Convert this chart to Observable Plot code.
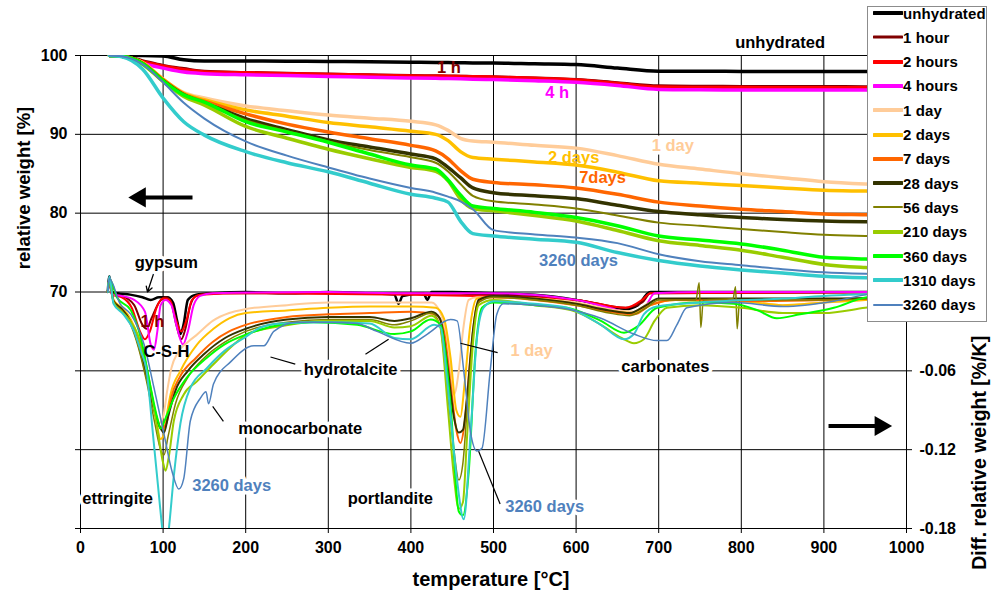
<!DOCTYPE html>
<html><head><meta charset="utf-8">
<script src="https://cdn.jsdelivr.net/npm/d3@7"></script>
<script src="https://cdn.jsdelivr.net/npm/@observablehq/plot@0.6"></script>
<style>
body{margin:0;background:#fff;}
#wrap{position:relative;width:1003px;height:596px;font-family:"Liberation Sans",Arial,sans-serif;}
#legend{position:absolute;left:867px;top:6px;width:120px;height:316px;border:1px solid #8c8c8c;background:#fff;box-sizing:border-box;}
.row{position:absolute;left:5px;height:20px;display:flex;align-items:center;font-weight:bold;font-size:15px;color:#000;white-space:nowrap;letter-spacing:0.1px;}
.row svg{margin-right:0px;}
</style></head><body>
<div id="wrap"><div id="chart"></div><div id="legend"></div></div>
<script>
// ---------- series ----------
const series = ["unhydrated","1 hour","2 hours","4 hours","1 day","2 days","7 days","28 days","56 days","210 days","360 days","1310 days","3260 days"];
const colors = ["#000000","#800000","#FF0000","#FF00FF","#FFCC99","#FFC000","#FF6600","#333300","#808000","#99CC00","#00FF00","#33CCCC","#4F81BD"];
const tgWidths = [3.5,3,3.5,3.5,3.5,3.5,3.5,3.5,2,3.5,3.5,3.5,2];
const dtgWidths = [2.5,2,2,2,2,2,2,2,1.5,2,2,2,1.5];
const legendWidths = [4,3,4,4,4,4,4,4,2,4,4,4,2];

// ---------- TG (relative weight, %) ----------
const tgTemps = [35,50,75,100,125,150,200,250,300,350,400,430,445,460,475,500,550,600,650,700,750,800,850,900,950,1000];
const tgUnhydrated = [100,100,100,99.95,99.45,99.3,99.3,99.28,99.25,99.2,99.15,99.12,99.1,99.08,99.06,99.05,98.95,98.85,98.4,98.0,98.0,97.98,97.98,97.97,97.97,97.96];
const tg1h   = [100,99.95,99.35,98.75,98.35,98.0,97.85,97.75,97.65,97.55,97.45,97.42,97.4,97.37,97.35,97.3,97.15,96.95,96.55,96.15,96.1,96.08,96.07,96.06,96.05,96.05];
const tg2h   = [100,99.9,99.2,98.65,98.2,97.9,97.8,97.7,97.6,97.5,97.4,97.37,97.35,97.33,97.3,97.25,97.1,96.9,96.45,96.0,95.95,95.93,95.92,95.92,95.91,95.9];
const tg4h   = [100,99.9,99.0,98.4,97.9,97.7,97.55,97.45,97.35,97.25,97.15,97.1,97.08,97.05,97.0,96.95,96.8,96.6,96.2,95.7,95.65,95.63,95.62,95.62,95.61,95.6];
const tg1d   = [100,99.9,99.1,97.0,95.3,94.6,93.6,93.0,92.45,92.05,91.65,91.2,90.5,89.5,89.15,89.0,88.6,88.25,87.3,86.2,85.6,85.0,84.5,84.0,83.7,83.5];
const tg2d   = [100,99.9,99.1,97.0,95.2,94.4,93.1,92.3,91.5,90.95,90.4,90.0,89.2,87.8,87.05,86.85,86.5,86.1,85.2,84.1,83.8,83.5,83.2,82.9,82.8,82.7];
const tg7d   = [100,99.9,99.0,96.9,95.1,94.2,92.6,91.3,90.3,89.45,88.6,87.9,86.9,85.4,84.3,83.9,83.6,83.2,82.4,81.4,80.9,80.5,80.2,79.9,79.8,79.7];
const tg28d  = [100,99.9,99.0,96.8,95.0,94.0,92.0,90.6,89.3,88.4,87.5,86.9,85.8,84.5,83.2,82.6,82.2,81.85,81.0,80.2,79.8,79.45,79.2,79.0,78.9,78.85];
const tg56d  = [100,99.9,99.0,96.8,95.0,93.9,91.8,90.4,89.1,88.0,87.1,86.4,85.3,83.7,82.2,81.5,81.1,80.6,79.7,78.8,78.4,78.0,77.6,77.25,77.1,77.0];
const tg210d = [100,99.9,98.9,96.7,94.8,93.7,91.0,89.5,88.1,86.9,85.8,85.3,84.1,81.8,80.6,80.3,79.7,79.0,77.8,76.5,75.9,75.3,74.4,73.5,73.1,72.9];
const tg360d = [100,99.9,99.0,96.8,95.0,94.1,91.6,90.3,89.0,87.5,86.1,85.6,84.2,82.3,80.9,80.6,80.1,79.45,78.4,77.1,76.6,76.1,75.3,74.4,74.2,74.1];
const tg1310d= [100,99.85,98.3,94.6,91.6,89.9,87.8,86.4,85.25,83.8,82.4,81.9,81.4,79.0,77.4,77.1,76.7,76.3,75.0,74.0,73.3,72.8,72.4,72.0,71.8,71.7];
const tg3260d= [100,99.9,98.9,96.6,94.0,92.0,89.1,87.3,85.8,84.4,83.2,82.6,82.1,81.5,80.5,77.85,77.3,76.9,76.2,74.8,73.9,73.4,72.9,72.5,72.3,72.2];

// ---------- DTG (diff. relative weight, %/K) : [temperature, value] ----------
const dtgUnhydrated = [[33,0],[35,0.012],[38,0],[45,-0.001],[60,-0.002],[75,-0.004],[85,-0.006],[95,-0.004],[105,-0.004],[112,-0.008],[117,-0.022],[121,-0.032],[125,-0.024],[130,-0.006],[140,-0.002],[160,-0.001],[200,0],[250,-0.001],[300,0],[350,-0.001],[380,-0.002],[385,-0.009],[390,-0.003],[415,-0.001],[420,-0.006],[425,0],[450,0],[500,-0.001],[550,-0.002],[600,-0.006],[640,-0.011],[660,-0.013],[675,-0.01],[685,-0.002],[690,0],[750,0],[800,0],[900,0],[1000,0]];
const dtg1h = [[33,0],[35,0.011],[38,-0.002],[50,-0.003],[65,-0.01],[75,-0.025],[80,-0.028],[86,-0.02],[95,-0.008],[103,-0.004],[110,-0.008],[116,-0.025],[122,-0.036],[127,-0.028],[133,-0.01],[140,-0.003],[160,-0.001],[400,-0.001],[600,-0.006],[660,-0.012],[680,-0.008],[690,-0.001],[1000,0]];
const dtg2h = [[33,0],[35,0.011],[38,-0.002],[50,-0.004],[62,-0.012],[72,-0.03],[78,-0.036],[84,-0.03],[92,-0.012],[100,-0.005],[108,-0.006],[115,-0.02],[122,-0.03],[128,-0.022],[135,-0.006],[145,-0.002],[200,-0.001],[400,-0.002],[600,-0.006],[660,-0.012],[680,-0.006],[690,-0.001],[1000,0]];
const dtg4h = [[33,0],[35,0.011],[38,-0.002],[50,-0.003],[65,-0.006],[78,-0.015],[85,-0.04],[89,-0.044],[93,-0.03],[97,-0.01],[103,-0.006],[110,-0.01],[116,-0.025],[124,-0.04],[130,-0.03],[137,-0.01],[145,-0.003],[160,-0.001],[300,0],[400,-0.001],[500,-0.001],[600,-0.006],[640,-0.012],[668,-0.016],[685,-0.01],[695,-0.001],[750,0],[1000,0]];
const dtg1d = [[33,0],[35,0.01],[40,-0.006],[50,-0.012],[60,-0.02],[70,-0.035],[80,-0.06],[88,-0.085],[94,-0.1],[100,-0.095],[105,-0.075],[110,-0.058],[118,-0.046],[130,-0.038],[140,-0.033],[160,-0.022],[180,-0.016],[200,-0.013],[250,-0.01],[300,-0.008],[350,-0.008],[400,-0.008],[425,-0.008],[435,-0.015],[445,-0.04],[452,-0.078],[458,-0.06],[463,-0.03],[470,-0.006],[480,-0.004],[500,-0.004],[550,-0.005],[600,-0.008],[650,-0.014],[670,-0.015],[690,-0.008],[720,-0.006],[800,-0.006],[850,-0.01],[900,-0.008],[1000,-0.004]];
const dtg2d = [[33,0],[35,0.01],[40,-0.006],[50,-0.012],[60,-0.02],[70,-0.035],[80,-0.06],[90,-0.09],[97,-0.112],[100,-0.11],[104,-0.095],[109,-0.078],[121,-0.06],[141,-0.04],[161,-0.028],[180,-0.02],[200,-0.016],[250,-0.014],[300,-0.012],[350,-0.011],[400,-0.011],[430,-0.012],[440,-0.02],[448,-0.05],[455,-0.09],[460,-0.095],[465,-0.07],[472,-0.025],[480,-0.005],[500,-0.004],[550,-0.005],[600,-0.009],[650,-0.015],[670,-0.016],[690,-0.01],[720,-0.006],[800,-0.007],[850,-0.01],[900,-0.008],[1000,-0.004]];
const dtg7d = [[33,0],[35,0.01],[40,-0.007],[50,-0.013],[60,-0.022],[70,-0.038],[80,-0.062],[90,-0.09],[98,-0.104],[104,-0.1],[110,-0.08],[120,-0.065],[140,-0.05],[160,-0.038],[180,-0.03],[200,-0.025],[250,-0.019],[300,-0.017],[350,-0.016],[400,-0.015],[430,-0.017],[440,-0.03],[448,-0.07],[455,-0.105],[460,-0.115],[465,-0.1],[472,-0.05],[480,-0.01],[490,-0.004],[500,-0.004],[550,-0.006],[600,-0.01],[650,-0.016],[670,-0.017],[690,-0.01],[720,-0.006],[800,-0.007],[900,-0.006],[1000,-0.004]];
const dtg28d = [[33,0],[35,0.01],[40,-0.007],[50,-0.013],[60,-0.022],[70,-0.04],[80,-0.065],[90,-0.092],[97,-0.104],[101,-0.107],[106,-0.095],[115,-0.075],[130,-0.06],[150,-0.047],[175,-0.035],[200,-0.028],[250,-0.021],[300,-0.019],[350,-0.019],[380,-0.022],[400,-0.02],[425,-0.015],[435,-0.02],[445,-0.06],[452,-0.095],[458,-0.107],[463,-0.105],[468,-0.08],[475,-0.03],[482,-0.006],[500,-0.003],[550,-0.005],[600,-0.009],[640,-0.014],[665,-0.016],[685,-0.01],[700,-0.005],[800,-0.005],[900,-0.005],[1000,-0.004]];
const dtg56d = [[33,0],[35,0.01],[40,-0.008],[50,-0.014],[60,-0.024],[70,-0.042],[80,-0.068],[90,-0.1],[97,-0.12],[101,-0.124],[106,-0.11],[115,-0.085],[130,-0.065],[150,-0.05],[175,-0.038],[200,-0.03],[250,-0.023],[300,-0.021],[350,-0.021],[380,-0.025],[400,-0.022],[425,-0.016],[435,-0.025],[445,-0.08],[452,-0.12],[458,-0.143],[463,-0.13],[468,-0.09],[475,-0.035],[482,-0.008],[500,-0.004],[550,-0.006],[600,-0.01],[640,-0.016],[665,-0.018],[685,-0.012],[700,-0.006],[745,-0.006],[749,0.007],[751,-0.027],[754,-0.006],[790,-0.005],[793,0.004],[795,-0.028],[798,-0.006],[850,-0.006],[900,-0.006],[1000,-0.004]];
const dtg210d = [[33,0],[35,0.01],[40,-0.008],[50,-0.015],[60,-0.022],[69,-0.032],[81,-0.06],[93,-0.104],[100,-0.13],[103,-0.136],[107,-0.125],[113,-0.098],[125,-0.078],[141,-0.068],[161,-0.055],[182,-0.042],[202,-0.032],[242,-0.026],[300,-0.022],[350,-0.022],[380,-0.027],[400,-0.026],[425,-0.018],[435,-0.025],[445,-0.09],[452,-0.14],[458,-0.165],[463,-0.16],[468,-0.11],[475,-0.04],[482,-0.01],[500,-0.006],[550,-0.01],[600,-0.015],[630,-0.025],[655,-0.035],[670,-0.039],[682,-0.036],[695,-0.022],[710,-0.012],[750,-0.01],[800,-0.012],[850,-0.016],[900,-0.016],[950,-0.012],[1000,-0.008]];
const dtg360d = [[33,0],[35,0.01],[44,-0.004],[61,-0.014],[73,-0.035],[85,-0.073],[93,-0.096],[97,-0.104],[103,-0.096],[113,-0.081],[129,-0.065],[153,-0.05],[174,-0.04],[202,-0.032],[242,-0.025],[282,-0.023],[335,-0.025],[380,-0.032],[400,-0.03],[424,-0.021],[436,-0.025],[448,-0.086],[458,-0.167],[463,-0.17],[470,-0.137],[478,-0.047],[486,-0.012],[500,-0.008],[550,-0.01],[589,-0.012],[630,-0.022],[658,-0.031],[675,-0.026],[698,-0.012],[750,-0.008],[791,-0.009],[820,-0.014],[843,-0.02],[871,-0.017],[912,-0.012],[952,-0.004],[1000,-0.002]];
const dtg1310d = [[33,0],[35,0.012],[40,-0.009],[52,-0.017],[65,-0.03],[73,-0.045],[80,-0.06],[88,-0.11],[95,-0.155],[99,-0.18],[103,-0.2],[107,-0.18],[113,-0.14],[121,-0.1],[133,-0.073],[153,-0.058],[174,-0.045],[198,-0.035],[218,-0.027],[242,-0.024],[300,-0.023],[350,-0.024],[380,-0.035],[400,-0.036],[428,-0.025],[436,-0.027],[444,-0.068],[456,-0.144],[464,-0.173],[472,-0.11],[480,-0.035],[488,-0.012],[500,-0.007],[550,-0.009],[589,-0.012],[630,-0.025],[658,-0.036],[670,-0.032],[682,-0.017],[698,-0.011],[750,-0.008],[850,-0.005],[900,-0.003],[1000,-0.001]];
const dtg3260d = [[33,0],[35,0.01],[48,-0.009],[61,-0.017],[77,-0.04],[89,-0.073],[101,-0.108],[111,-0.137],[119,-0.15],[125,-0.142],[133,-0.098],[145,-0.081],[152,-0.076],[155,-0.085],[161,-0.07],[182,-0.053],[210,-0.041],[222,-0.041],[234,-0.03],[262,-0.023],[300,-0.023],[335,-0.024],[359,-0.03],[400,-0.039],[420,-0.032],[448,-0.021],[456,-0.022],[464,-0.06],[472,-0.106],[480,-0.121],[486,-0.119],[496,-0.06],[504,-0.017],[512,-0.009],[550,-0.01],[589,-0.013],[630,-0.02],[670,-0.032],[698,-0.037],[710,-0.037],[722,-0.025],[734,-0.012],[791,-0.008],[851,-0.011],[912,-0.007],[952,-0.002],[1000,0]];

// ---------- axes ----------
const xTicks = [0,100,200,300,400,500,600,700,800,900,1000];
const tgTicks = [40,50,60,70,80,90,100];
const tgLabelled = [70,80,90,100];
const dtgTicks = [-0.06,-0.12,-0.18];

// ---------- annotations ----------
const annotations = [
  {T:847,w:101.65,text:"unhydrated",color:"#000",halo:false},
  {T:446,w:98.5,text:"1 h",color:"#800000",halo:false},
  {T:577,w:95.3,text:"4 h",color:"#FF00FF",halo:false},
  {T:717,w:88.6,text:"1 day",color:"#FFCC99",halo:true},
  {T:597,w:87.0,text:"2 days",color:"#FFC000",halo:false},
  {T:632,w:84.5,text:"7days",color:"#FF6600",halo:false},
  {T:603,w:74.0,text:"3260 days",color:"#4F81BD",halo:false},
  {T:104,w:73.7,text:"gypsum",color:"#000",halo:true},
  {T:87,w:66.2,text:"1 h",color:"#800000",halo:false},
  {T:104,w:62.4,text:"C-S-H",color:"#000",halo:false},
  {T:327,w:60.1,text:"hydrotalcite",color:"#000",halo:true},
  {T:266,w:52.7,text:"monocarbonate",color:"#000",halo:true},
  {T:45,w:43.8,text:"ettringite",color:"#000",halo:true},
  {T:183,w:45.4,text:"3260 days",color:"#4F81BD",halo:true},
  {T:375,w:43.8,text:"portlandite",color:"#000",halo:true},
  {T:546,w:62.5,text:"1 day",color:"#FFCC99",halo:true},
  {T:562,w:42.7,text:"3260 days",color:"#4F81BD",halo:true},
  {T:708,w:60.5,text:"carbonates",color:"#000",halo:true}
];
const leaders = [
  {x1:230,y1:61.75,x2:260,y2:60.86},
  {x1:345,y1:62.1,x2:373,y2:64.0},
  {x1:160,y1:55.5,x2:173,y2:53.6},
  {x1:460,y1:63.5,x2:505,y2:62.3},
  {x1:482,y1:49.8,x2:508,y2:43.1}
];
const gypsumArrow = [{x1:88.4,y1:72.3,x2:81.1,y2:70.0}];
const bigArrows = [{x1:135.6,x2:72,y:82.0,rot:-90},{x1:905.6,x2:968.5,y:53.0,rot:90}];

// ---------- build ----------
const tgValues = [tgUnhydrated,tg1h,tg2h,tg4h,tg1d,tg2d,tg7d,tg28d,tg56d,tg210d,tg360d,tg1310d,tg3260d];
const dtgValues = [dtgUnhydrated,dtg1h,dtg2h,dtg4h,dtg1d,dtg2d,dtg7d,dtg28d,dtg56d,dtg210d,dtg360d,dtg1310d,dtg3260d];
const toLeft = d => 70 + d / 0.006;      // DTG value -> left axis position
const fromLeft = v => (v - 70) * 0.006;

const font = '"Liberation Sans", Arial, sans-serif';
const annSize = 16.5;
const marks = [
  Plot.gridX({ticks: xTicks, stroke: "#000", strokeOpacity: 1, strokeWidth: 1}),
  Plot.gridY({ticks: tgTicks, stroke: "#000", strokeOpacity: 1, strokeWidth: 1}),
  Plot.frame({stroke: "#000", strokeWidth: 1}),
  Plot.axisX({ticks: xTicks, tickSize: 5, tickPadding: 8, tickFormat: d => String(d), label: null}),
  Plot.axisY({ticks: tgTicks, tickSize: 5, tickPadding: 8, tickFormat: d => tgLabelled.includes(d) ? String(d) : "", label: null}),
  Plot.axisY({anchor: "right", ticks: dtgTicks.map(toLeft), tickSize: 5, tickPadding: 8, tickFormat: v => fromLeft(v).toFixed(2), label: null})
];
series.forEach((s, i) => {
  const rows = dtgValues[i].map(([T, d]) => ({T, w: toLeft(d)}));
  marks.push(Plot.line(rows, {x: "T", y: "w", stroke: colors[i], strokeWidth: dtgWidths[i], curve: "monotone-x", clip: true}));
});
series.forEach((s, i) => {
  const rows = tgTemps.map((T, j) => ({T, w: tgValues[i][j]}));
  marks.push(Plot.line(rows, {x: "T", y: "w", stroke: colors[i], strokeWidth: tgWidths[i], curve: "monotone-x", clip: true}));
});
marks.push(
  Plot.link(leaders, {x1: "x1", y1: "y1", x2: "x2", y2: "y2", stroke: "#000", strokeWidth: 1.2}),
  Plot.arrow(gypsumArrow, {x1: "x1", y1: "y1", x2: "x2", y2: "y2", stroke: "#000", strokeWidth: 1.3, headLength: 7}),
  Plot.link(bigArrows, {x1: "x1", x2: "x2", y1: "y", y2: "y", stroke: "#000", strokeWidth: 4}),
  Plot.dot(bigArrows, {x: "x2", y: "y", symbol: "triangle", r: 7.5, fill: "#000", stroke: "none", rotate: "rot"}),
  Plot.text(annotations.filter(a => a.halo), {x: "T", y: "w", text: "text", fill: "color", stroke: "#fff", strokeWidth: 7, fontSize: annSize, fontWeight: "bold", fontFamily: font}),
  Plot.text(annotations.filter(a => !a.halo), {x: "T", y: "w", text: "text", fill: "color", fontSize: annSize, fontWeight: "bold", fontFamily: font}),
  Plot.text(["relative weight [%]"], {x: 0, y: 83.2, dx: -56, rotate: -90, fontSize: 18.5, fontWeight: "bold", fontFamily: font, fill: "#000"}),
  Plot.text(["Diff. relative weight [%/K]"], {x: 1000, y: 49.6, dx: 73, rotate: -90, fontSize: 19.5, fontWeight: "bold", fontFamily: font, fill: "#000"}),
  Plot.text(["temperature [°C]"], {x: 497, y: 40, dy: 51, fontSize: 20, fontWeight: "bold", fontFamily: font, fill: "#000"})
);

const chart = Plot.plot({
  width: 1003, height: 596,
  marginLeft: 80, marginRight: 97, marginTop: 55, marginBottom: 68,
  x: {domain: [0, 1000]},
  y: {domain: [40, 100]},
  style: {fontFamily: font, fontSize: "16px", fontWeight: "bold", color: "#000", background: "#fff", overflow: "visible"},
  marks
});
document.getElementById("chart").appendChild(chart);

// ---------- legend ----------
const legend = document.getElementById("legend");
series.forEach((s, i) => {
  const row = document.createElement("div");
  row.className = "row";
  row.style.top = (13 + i * 24.3 - 7 - 10) + "px";
  row.innerHTML = `<svg width="30" height="20"><line x1="1" y1="10" x2="29" y2="10" stroke="${colors[i]}" stroke-width="${legendWidths[i]}" stroke-linecap="round"/></svg><span>${s}</span>`;
  legend.appendChild(row);
});
</script></body></html>
